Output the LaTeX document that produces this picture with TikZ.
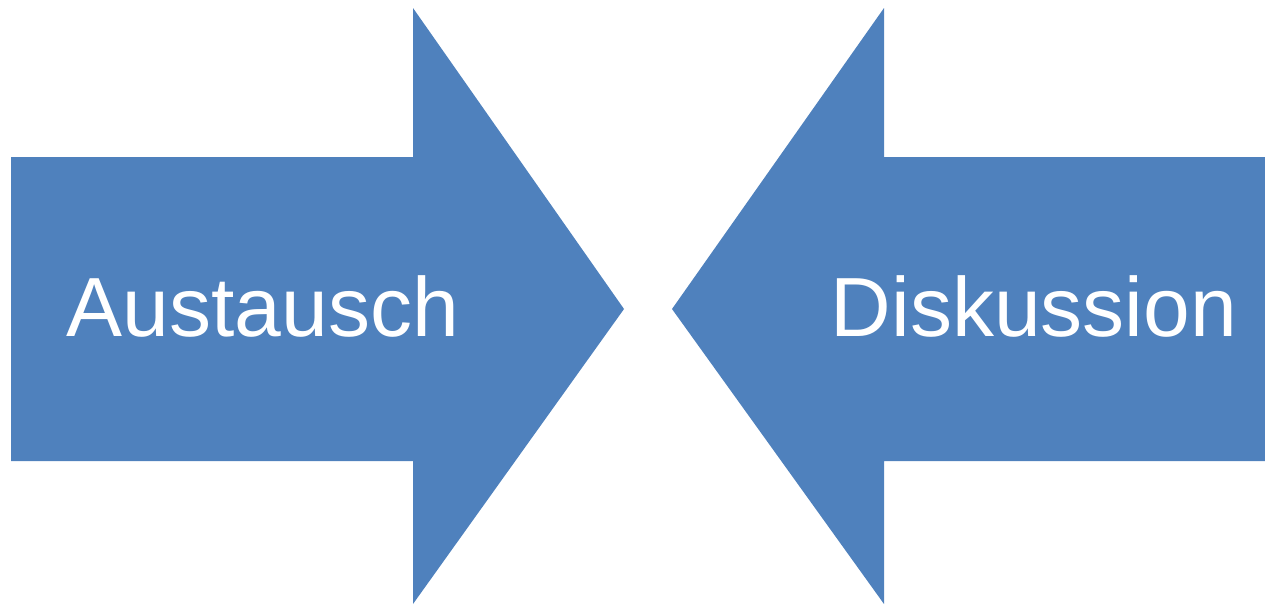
\documentclass[tikz,border=0pt]{standalone}
\usepackage{fontspec}
\setmainfont{Liberation Sans}
\usetikzlibrary{positioning}
\definecolor{azul}{HTML}{4F81BD}

\begin{document}
\begin{tikzpicture}[
  x=1pt,y=-1pt,
  seta/.style={fill=azul,draw=none},
  rotulo/.style={text=white,inner sep=0pt,anchor=base,
                 font=\fontsize{84}{100}\selectfont}
]
  \useasboundingbox (0,0) rectangle (1265,605);
  % seta da esquerda, aponta para a direita
  \fill[seta] (11,157) -- (413,157) -- (413,8) -- (624,309)
    -- (413,604) -- (413,461) -- (11,461) -- cycle;
  % seta da direita, aponta para a esquerda
  \fill[seta] (1265,157) -- (884,157) -- (884,8) -- (672,309)
    -- (884,604) -- (884,461) -- (1265,461) -- cycle;

  \node[rotulo] (aust) at (263,336) {Austausch};
  \node[rotulo] (disk) at (1034,336) {Diskussion};
\end{tikzpicture}
\end{document}
